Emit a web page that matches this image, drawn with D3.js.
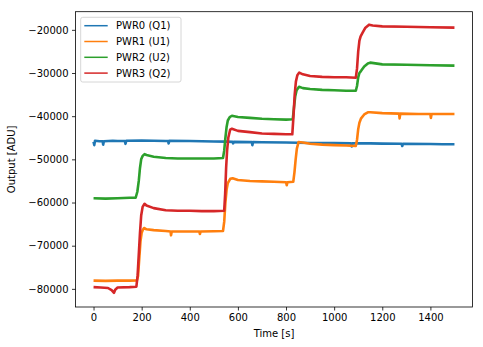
<!DOCTYPE html>
<html><head><meta charset="utf-8">
<script src="https://cdn.jsdelivr.net/npm/d3@7"></script>
<style>
body{margin:0;background:#fff;}
svg{display:block;font-family:"DejaVu Sans",sans-serif;}
</style></head>
<body><svg id="c" width="483" height="347"></svg>
<script>
const seriesNames = ["PWR0 (Q1)", "PWR1 (U1)", "PWR2 (U2)", "PWR3 (Q2)"];
const seriesColors = ["#1f77b4", "#ff7f0e", "#2ca02c", "#d62728"];
const xTicks = [0, 200, 400, 600, 800, 1000, 1200, 1400];
const yTicks = [-80000, -70000, -60000, -50000, -40000, -30000, -20000];

const pwr0 = [[0,-45900],[3,-46700],[6,-45700],[25,-45800],[38,-45800],[40,-46600],[43,-45800],[80,-45700],[100,-45750],[130,-45750],[133,-46400],[136,-45700],[200,-45650],[250,-45700],[300,-45750],[310,-45750],[312,-46300],[315,-45700],[400,-45750],[450,-45800],[500,-45850],[550,-45900],[578,-45950],[580,-46300],[583,-45950],[650,-46000],[658,-46000],[660,-46700],[663,-46000],[700,-46050],[800,-46100],[850,-46150],[900,-46200],[950,-46250],[1000,-46250],[1070,-46300],[1073,-47000],[1076,-46300],[1150,-46300],[1200,-46350],[1280,-46400],[1283,-46900],[1286,-46400],[1400,-46450],[1450,-46500],[1500,-46500]];

const pwr1 = [[0,-78100],[50,-78150],[100,-78100],[150,-78100],[180,-78050],[185,-77000],[190,-73000],[195,-69000],[200,-67000],[205,-66300],[210,-65900],[220,-66200],[250,-66400],[300,-66600],[320,-66700],[322,-67600],[325,-66700],[400,-66700],[440,-66700],[442,-67300],[445,-66700],[500,-66650],[538,-66600],[543,-64500],[548,-60000],[553,-57000],[558,-55500],[568,-54500],[578,-54400],[600,-54800],[650,-55000],[700,-55100],[750,-55200],[800,-55300],[803,-56000],[806,-55300],[830,-55200],[835,-53000],[840,-50000],[845,-47500],[852,-46000],[870,-46100],[900,-46400],[950,-46600],[1000,-46700],[1050,-46800],[1090,-46900],[1095,-45500],[1100,-43000],[1105,-41500],[1112,-40500],[1125,-39600],[1140,-39100],[1150,-39100],[1200,-39300],[1270,-39400],[1272,-40500],[1275,-39400],[1350,-39500],[1400,-39500],[1402,-40400],[1405,-39500],[1500,-39500]];

const pwr2 = [[0,-59000],[50,-59100],[100,-59000],[150,-58900],[175,-58900],[182,-57500],[188,-55000],[193,-52000],[198,-50000],[204,-49200],[212,-48800],[220,-49000],[250,-49400],[300,-49700],[350,-49800],[400,-49800],[450,-49800],[500,-49800],[538,-49700],[543,-48000],[548,-45000],[553,-42500],[558,-41000],[566,-40200],[575,-39900],[600,-40200],[650,-40400],[700,-40600],[750,-40700],[800,-40800],[828,-40700],[833,-38000],[838,-35500],[844,-34000],[854,-33200],[870,-33500],[900,-33700],[950,-33900],[1000,-34000],[1050,-34100],[1090,-34100],[1095,-33000],[1100,-31000],[1105,-30000],[1112,-29500],[1125,-28500],[1140,-27800],[1150,-27600],[1200,-28000],[1300,-28100],[1400,-28200],[1500,-28300]];

const pwr3 = [[0,-79600],[30,-79700],[60,-79800],[75,-80300],[85,-80900],[90,-80200],[100,-79700],[150,-79600],[178,-79500],[183,-77000],[188,-72000],[193,-67000],[198,-63000],[204,-61000],[212,-60300],[220,-60700],[250,-61300],[300,-61800],[350,-61900],[400,-61900],[450,-62000],[500,-62000],[543,-61900],[547,-58000],[551,-52000],[555,-48000],[560,-45000],[568,-43100],[575,-42900],[600,-43400],[650,-43700],[700,-44000],[750,-44100],[800,-44200],[826,-44200],[831,-40000],[836,-35000],[841,-32000],[847,-30500],[855,-29900],[870,-30300],[900,-30700],[950,-30900],[1000,-31000],[1050,-31000],[1090,-31100],[1095,-29000],[1100,-25000],[1105,-22500],[1110,-21500],[1120,-20500],[1130,-19500],[1145,-18800],[1160,-19000],[1200,-19200],[1300,-19300],[1400,-19400],[1500,-19500]];

const seriesData = [pwr0, pwr1, pwr2, pwr3];

const svg = d3.select("#c");
const L = 75.5, R = 472.5, T = 11.7, B = 307;
const x = d3.scaleLinear().domain([-75, 1575]).range([L, R]);
const y = d3.scaleLinear().domain([-84200, -15800]).range([B, T]);

const fmt = d => (d < 0 ? "\u2212" : "") + Math.abs(d);

const clip = svg.append("clipPath").attr("id","clp").append("rect")
  .attr("x", L).attr("y", T).attr("width", R-L).attr("height", B-T);

const line = d3.line().x(d => x(d[0])).y(d => y(d[1]));
const g = svg.append("g").attr("clip-path","url(#clp)");
seriesData.forEach((s, i) => {
  g.append("path").datum(s).attr("d", line)
    .attr("fill","none").attr("stroke", seriesColors[i])
    .attr("stroke-width", 2.6).attr("stroke-linejoin","round");
});

const xa = svg.append("g").attr("transform", `translate(0,${B})`)
  .call(d3.axisBottom(x).tickValues(xTicks).tickSize(3.5).tickPadding(3.5).tickFormat(d => d));
const ya = svg.append("g").attr("transform", `translate(${L},0)`)
  .call(d3.axisLeft(y).tickValues(yTicks).tickSize(3.5).tickPadding(3.5).tickFormat(fmt));
[xa, ya].forEach(a => {
  a.select(".domain").remove();
  a.selectAll("text").attr("font-size", 10).attr("fill","#000").attr("font-family","DejaVu Sans");
  a.selectAll("line").attr("stroke","#000").attr("stroke-width",0.8);
});

svg.append("rect").attr("x", L).attr("y", T).attr("width", R-L).attr("height", B-T)
  .attr("fill","none").attr("stroke","#000").attr("stroke-width",0.8);

svg.append("text").attr("x", (L+R)/2).attr("y", 337).attr("text-anchor","middle")
  .attr("font-size",10).text("Time [s]");
svg.append("text").attr("transform", `translate(15,${(T+B)/2}) rotate(-90)`)
  .attr("text-anchor","middle").attr("font-size",10).text("Output [ADU]");

const lg = svg.append("g");
lg.append("rect").attr("x", 80.7).attr("y", 17.3).attr("width", 100.3).attr("height", 64.7)
  .attr("rx", 2).attr("fill","#fff").attr("fill-opacity",0.8)
  .attr("stroke","#ccc").attr("stroke-width",0.8);
seriesNames.forEach((n, i) => {
  const yy = 25.7 + i * 15.8;
  lg.append("line").attr("x1", 84.3).attr("x2", 107.7).attr("y1", yy).attr("y2", yy)
    .attr("stroke", seriesColors[i]).attr("stroke-width", 1.5);
  lg.append("text").attr("x", 116).attr("y", yy).attr("dy","0.35em")
    .attr("font-size",10).text(n);
});
</script></body></html>
